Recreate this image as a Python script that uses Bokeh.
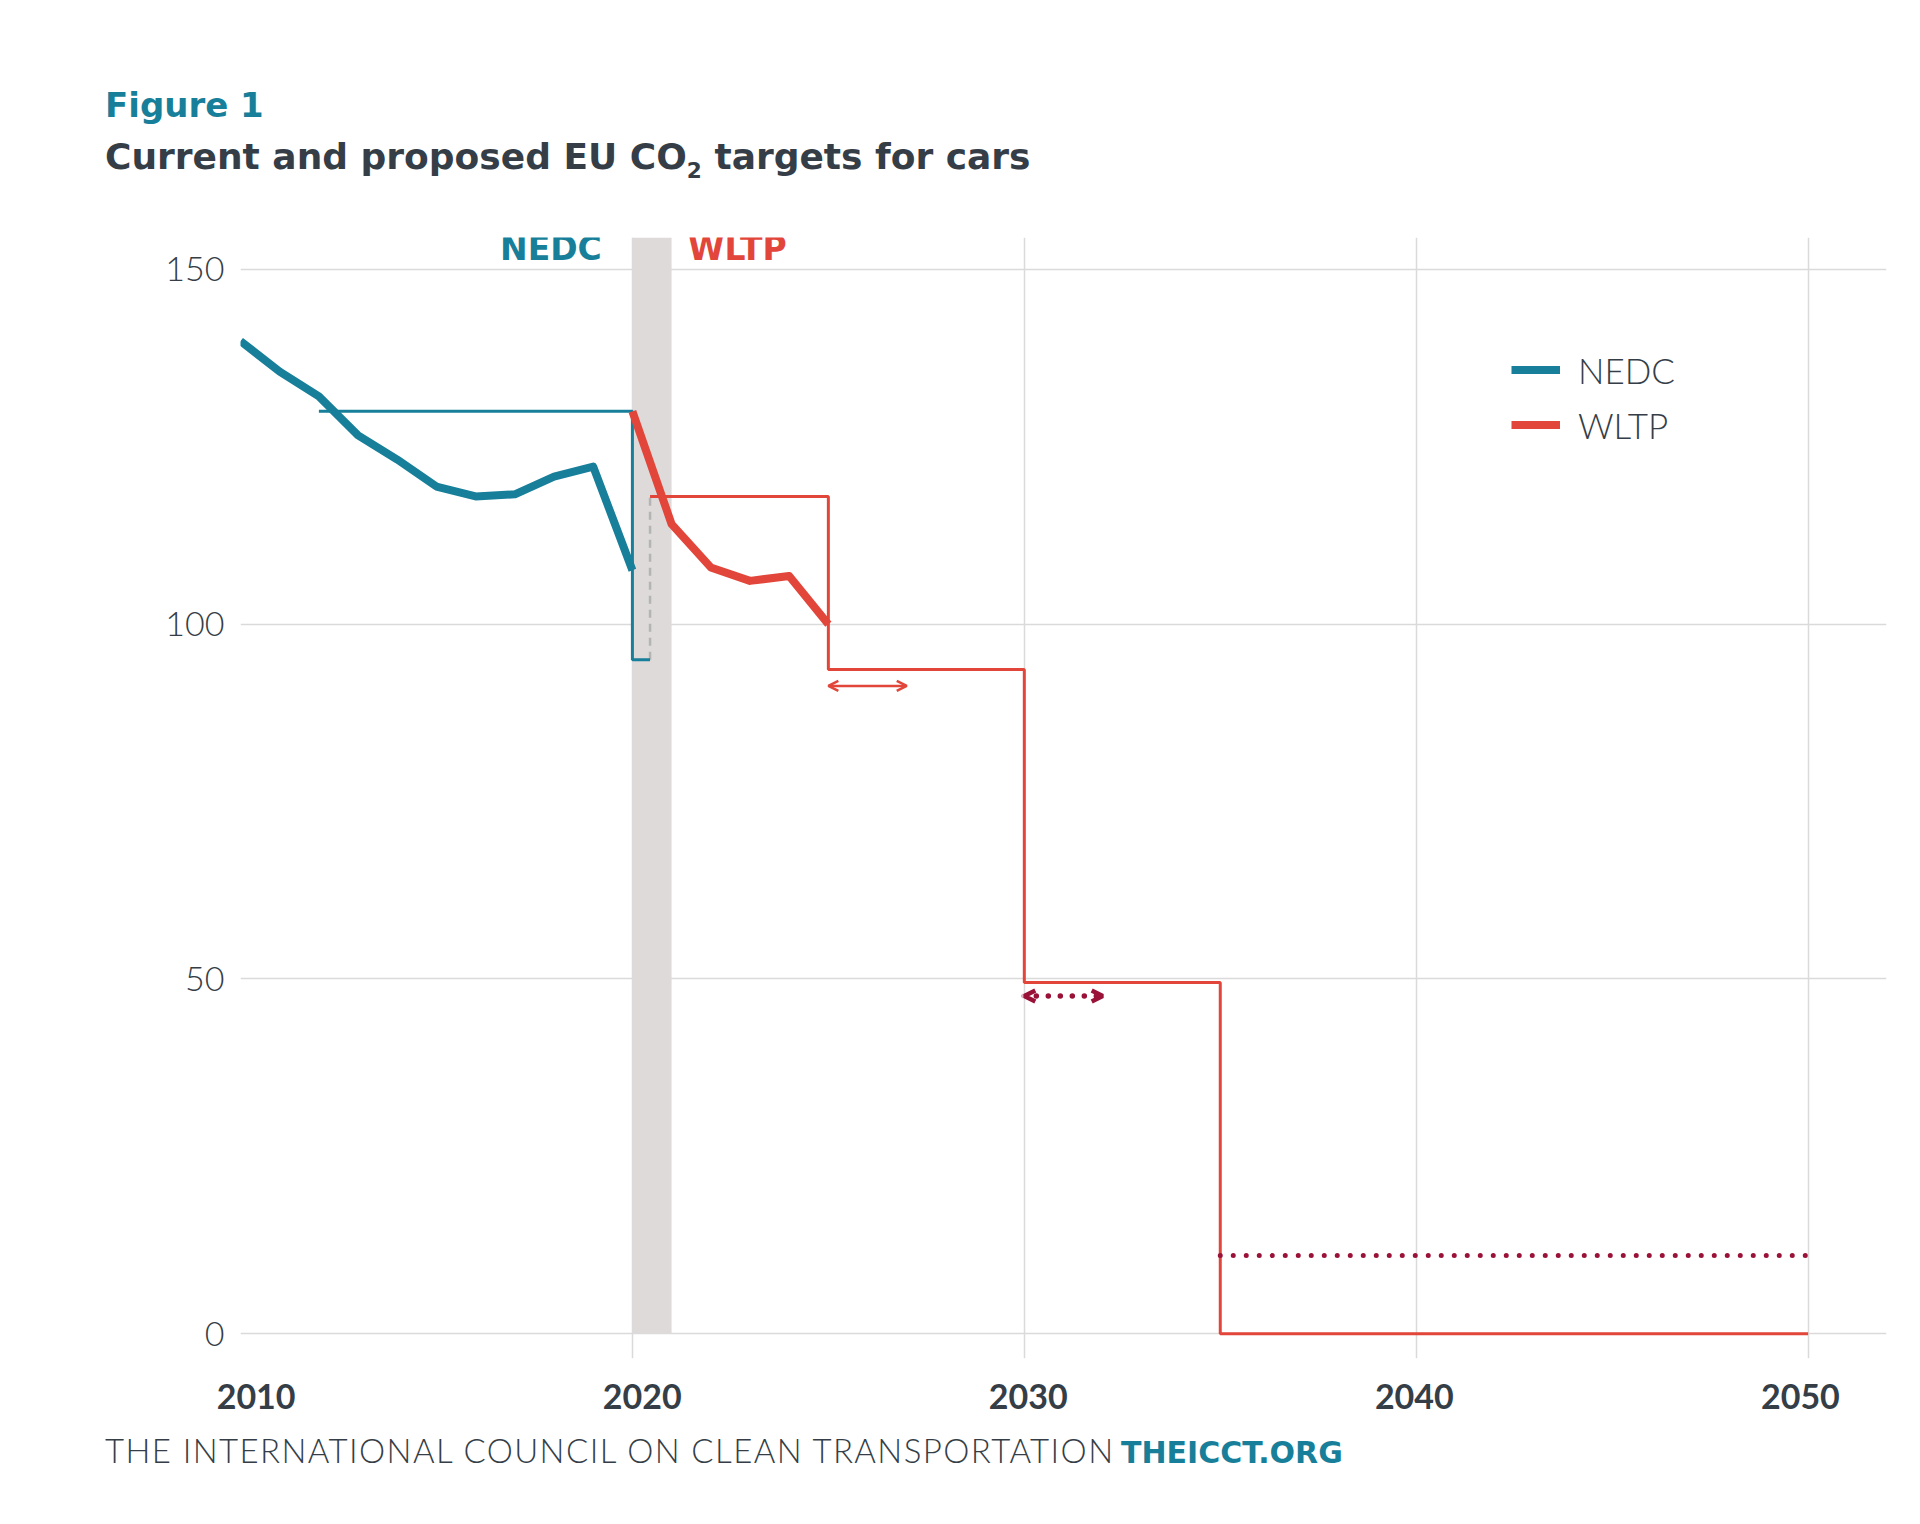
from bokeh.plotting import figure
from bokeh.layouts import column
from bokeh.models import (FixedTicker, Label, Legend, LegendItem, Arrow, OpenHead,
                          BoxAnnotation, Range1d, LinearAxis, Div)
from bokeh.embed import file_html
from bokeh.resources import INLINE

# fleet average CO2 (g/km)
nedc_years = [2010, 2011, 2012, 2013, 2014, 2015, 2016, 2017, 2018, 2019, 2020]
nedc_fleet = [139.9, 135.6, 132.1, 126.6, 123.2, 119.4, 118.0, 118.3, 120.8, 122.2, 107.6]
wltp_years = [2020, 2021, 2022, 2023, 2024, 2025]
wltp_fleet = [130.0, 114.1, 108.0, 106.1, 106.8, 100.0]

# targets (steps)
nedc_target_years = [2012, 2020, 2020.45]
nedc_target = [130, 95, 95]
wltp_target_years = [2020.45, 2025, 2030, 2035, 2050]
wltp_target = [118, 93.6, 49.5, 0, 0]

transition_years = [2020, 2021]
flex_2025_years = [2025, 2027]
flex_2025_level = 91.3
flex_2030_years = [2030, 2032]
flex_2030_level = 47.6
post_2035_years = [2035, 2050]
post_2035_level = 11

x_ticks = [2010, 2020, 2030, 2040, 2050]
y_ticks = [0, 50, 100, 150]

TEAL = "#177f99"
RED = "#e2463a"
WINE = "#9b1238"
DARK = "#353e47"
GRID = "#dadada"
BOLD = "DejaVu Sans"
LIGHT = "Lato Light, Lato"

FRAME_L, FRAME_T, FRAME_W, FRAME_H = 240, 237, 1646, 1121
HEADER_H, FOOTER_H = 200, 100

p = figure(frame_width=FRAME_W, frame_height=FRAME_H,
           x_range=(2010, 2052), y_range=(-3.5, 154.5),
           min_border_left=FRAME_L, min_border_top=FRAME_T - HEADER_H,
           min_border_right=1920 - FRAME_L - FRAME_W, min_border_bottom=62,
           output_backend="svg", toolbar_location=None)

p.outline_line_color = None
p.background_fill_color = "white"
p.border_fill_color = "white"

p.xaxis.visible = False
p.xgrid.ticker = FixedTicker(ticks=x_ticks)
p.yaxis.ticker = FixedTicker(ticks=y_ticks)
p.yaxis.axis_line_color = None
p.yaxis.major_tick_line_color = None
p.yaxis.minor_tick_line_color = None
p.yaxis.major_label_text_font = LIGHT
p.yaxis.major_label_text_font_size = "34px"
p.yaxis.major_label_text_color = DARK
p.yaxis.major_label_standoff = 10

# the year labels sit on a slightly tighter spacing than the grid
p.extra_x_ranges = {"labels": Range1d(2009.596, 2052.23)}
year_axis = LinearAxis(x_range_name="labels", ticker=FixedTicker(ticks=x_ticks),
                       axis_line_color=None, major_tick_line_color=None,
                       minor_tick_line_color=None, major_label_standoff=19,
                       major_label_text_font="Lato", major_label_text_font_style="bold",
                       major_label_text_font_size="34px", major_label_text_color=DARK)
p.add_layout(year_axis, "below")

p.grid.grid_line_color = GRID
p.grid.grid_line_width = 1.5

# grey band for the NEDC -> WLTP switch
band = BoxAnnotation(left=transition_years[0], right=transition_years[1], bottom=0,
                     fill_color="#dedada", fill_alpha=1, line_color=None, level="underlay")
p.add_layout(band)

# conversion of the 95 g/km target
p.segment(x0=[nedc_target_years[-1]], y0=[nedc_target[-1]],
          x1=[wltp_target_years[0]], y1=[wltp_target[0]],
          line_color="#b4b4b4", line_width=2.5, line_dash="8 6")

p.step(nedc_target_years, nedc_target, mode="after", line_color=TEAL, line_width=3)
p.step(wltp_target_years, wltp_target, mode="after", line_color=RED, line_width=3)

r_nedc = p.line(nedc_years, nedc_fleet, line_color=TEAL, line_width=8, line_join="round")
r_wltp = p.line(wltp_years, wltp_fleet, line_color=RED, line_width=8, line_join="round")

p.line(post_2035_years, [post_2035_level] * 2, line_color=WINE, line_width=5,
       line_dash="0 13", line_cap="round")

p.add_layout(Arrow(x_start=flex_2025_years[0], x_end=flex_2025_years[1],
                   y_start=flex_2025_level, y_end=flex_2025_level,
                   line_color=RED, line_width=2.5,
                   start=OpenHead(size=10, line_color=RED, line_width=2.5),
                   end=OpenHead(size=10, line_color=RED, line_width=2.5)))
p.add_layout(Arrow(x_start=flex_2030_years[0], x_end=flex_2030_years[1],
                   y_start=flex_2030_level, y_end=flex_2030_level,
                   line_color=WINE, line_width=5.5, line_dash="0 12", line_cap="round",
                   start=OpenHead(size=11, line_color=WINE, line_width=4.5),
                   end=OpenHead(size=11, line_color=WINE, line_width=4.5)))

legend = Legend(items=[LegendItem(label="NEDC", renderers=[r_nedc]),
                       LegendItem(label="WLTP", renderers=[r_wltp])],
                location=(1271, 906), glyph_width=49, glyph_height=55, label_height=55,
                spacing=0, padding=0, margin=0, label_standoff=18,
                border_line_color=None, background_fill_alpha=0,
                label_text_font=LIGHT, label_text_font_size="35px", label_text_color=DARK)
p.add_layout(legend)

# header labels over the plot
p.add_layout(Label(x=2019.22, y=153, text="NEDC", text_align="right",
                   text_baseline="alphabetic", text_font=BOLD, text_font_style="bold",
                   text_font_size="33px", text_color=TEAL))
p.add_layout(Label(x=2021.42, y=153, text="WLTP", text_align="left",
                   text_baseline="alphabetic", text_font=BOLD, text_font_style="bold",
                   text_font_size="33px", text_color=RED))

header = Div(width=1920, height=HEADER_H, margin=0, text=f"""
<div style="position:relative;width:1920px;height:{HEADER_H}px;">
  <div style="position:absolute;left:105px;top:88px;white-space:nowrap;
              font:bold 34px 'DejaVu Sans';line-height:34px;color:{TEAL};">Figure 1</div>
  <div style="position:absolute;left:105px;top:139px;white-space:nowrap;
              font:bold 36px 'DejaVu Sans';line-height:36px;color:{DARK};">Current and proposed EU
    CO<sub style="font-size:60%;line-height:0;vertical-align:-0.4em;">2</sub> targets for cars</div>
</div>""")

footer = Div(width=1920, height=FOOTER_H, margin=0, text=f"""
<div style="position:relative;width:1920px;height:{FOOTER_H}px;">
  <div style="position:absolute;left:105px;top:14px;white-space:nowrap;letter-spacing:1.4px;
              font:33px 'Lato Light', Lato;line-height:33px;color:{DARK};">THE INTERNATIONAL COUNCIL ON CLEAN TRANSPORTATION</div>
  <div style="position:absolute;left:1121px;top:18px;white-space:nowrap;
              font:bold 30px 'DejaVu Sans';line-height:30px;color:{TEAL};">THEICCT.ORG</div>
</div>""")

layout = column(header, p, footer, spacing=0)

open("out.html", "w").write(file_html(layout, INLINE))
